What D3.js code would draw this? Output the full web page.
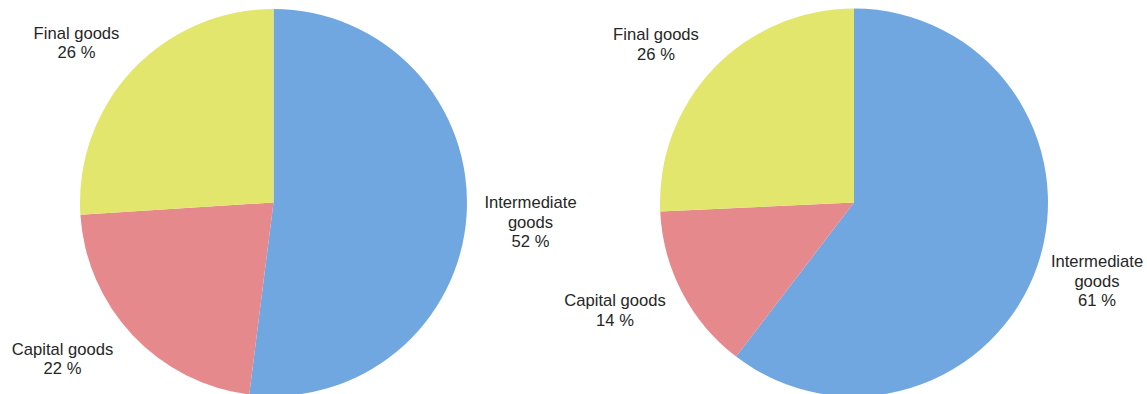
<!DOCTYPE html>
<html>
<head>
<meta charset="utf-8">
<script src="https://cdn.jsdelivr.net/npm/d3@7"></script>
<style>
  html, body { margin: 0; padding: 0; background: #fff; }
  svg text { font-family: "Liberation Sans", Arial, sans-serif; font-size: 16.6px; fill: #262626; }
</style>
</head>
<body>
<svg id="chart" width="1147" height="394"></svg>
<script>
// Shares of goods by category (percent), one pie per panel
const categories = ["Intermediate goods", "Capital goods", "Final goods"];
const labelLines = [["Intermediate", "goods"], ["Capital goods"], ["Final goods"]];
const leftValues = [52, 22, 26];
const rightValues = [61, 14, 26];
const colors = ["#71A7E0", "#E6898C", "#E2E66C"];

// Layout: pie centres, radii and label block centres (relative to the pie centre)
const panels = [
  { values: leftValues, cx: 273.5, cy: 202.5, r: 193.5,
    labelPos: [[257, 19.5], [-211, 156], [-197, -160]] },
  { values: rightValues, cx: 854, cy: 202.5, r: 194,
    labelPos: [[243, 78.5], [-239, 107.5], [-198, -158.5]] }
];

const svg = d3.select("#chart");
const color = d3.scaleOrdinal().domain(categories).range(colors);
const pie = d3.pie().sort(null).value(d => d.value);

function drawPie(p) {
  const data = categories.map((c, i) => ({ name: c, value: p.values[i], lines: labelLines[i], pos: p.labelPos[i] }));
  const arcs = pie(data);
  const arc = d3.arc().innerRadius(0).outerRadius(p.r);
  const g = svg.append("g").attr("transform", `translate(${p.cx},${p.cy})`);

  g.selectAll("path.slice").data(arcs).join("path")
    .attr("class", "slice")
    .attr("d", arc)
    .attr("fill", d => color(d.data.name));

  const lineH = 19.5;
  g.selectAll("text.label").data(arcs).join("text")
    .attr("class", "label")
    .attr("text-anchor", "middle")
    .each(function (d) {
      const [x, y] = d.data.pos;
      const lines = d.data.lines.concat([`${d.data.value} %`]);
      const top = y - (lines.length - 1) * lineH / 2;
      const t = d3.select(this);
      lines.forEach((ln, i) => {
        t.append("tspan")
          .attr("x", x)
          .attr("y", top + i * lineH)
          .attr("dy", "0.35em")
          .text(ln);
      });
    });
}

panels.forEach(drawPie);
</script>
</body>
</html>
